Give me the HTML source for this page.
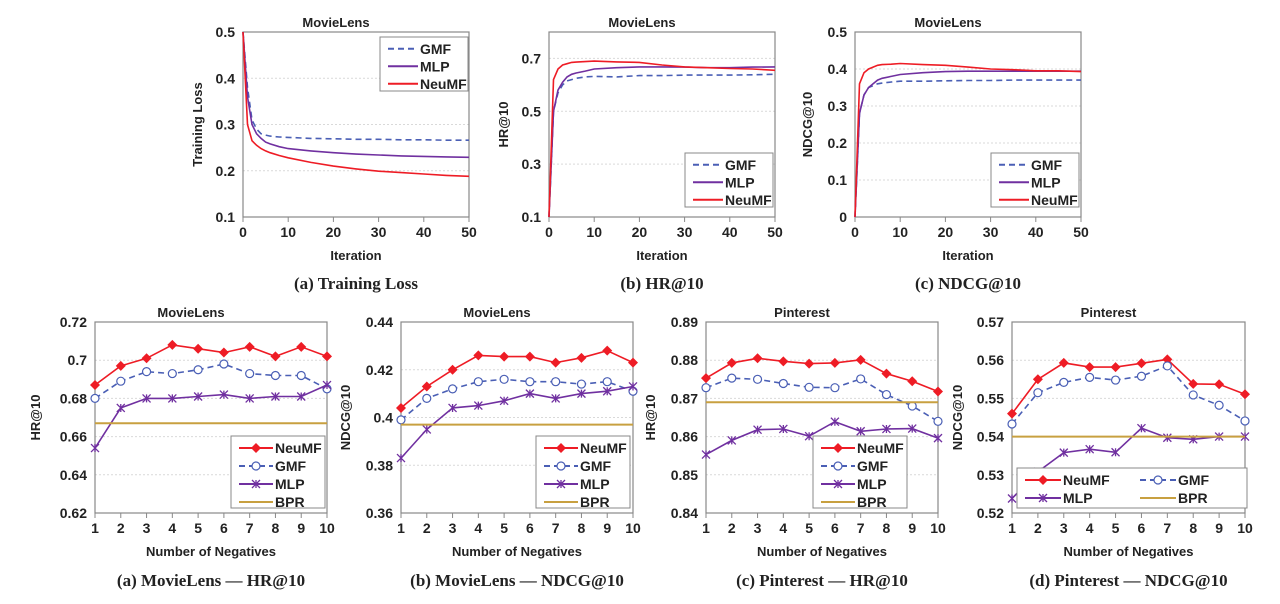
<!DOCTYPE html>
<html><head><meta charset="utf-8"><style>
html,body{margin:0;padding:0;background:#fff;width:1280px;height:604px;overflow:hidden}
svg{display:block;font-family:"Liberation Sans",Arial,sans-serif}
.cap{font-family:"Liberation Serif",serif;font-weight:bold;font-size:17px}
</style></head><body>
<svg id="fig" width="1280" height="604" viewBox="0 0 1280 604" xmlns="http://www.w3.org/2000/svg"></svg>
<script>
// ---------- data: top convergence charts ----------
const iters = [0,1,2,3,4,5,6,8,10,15,20,25,30,35,40,45,50];
const lossGMF = [0.5,0.38,0.31,0.29,0.28,0.277,0.275,0.273,0.272,0.270,0.269,0.268,0.268,0.267,0.267,0.266,0.266];
const lossMLP = [0.5,0.36,0.30,0.28,0.27,0.262,0.258,0.252,0.248,0.243,0.239,0.236,0.234,0.232,0.231,0.230,0.229];
const lossNeuMF = [0.5,0.30,0.265,0.255,0.248,0.243,0.239,0.233,0.228,0.218,0.210,0.204,0.199,0.196,0.193,0.190,0.188];
const hrGMF = [0.1,0.50,0.57,0.60,0.615,0.62,0.625,0.63,0.632,0.630,0.635,0.635,0.637,0.637,0.637,0.638,0.640];
const hrMLP = [0.1,0.50,0.58,0.61,0.63,0.64,0.645,0.652,0.66,0.665,0.668,0.668,0.667,0.665,0.665,0.667,0.668];
const hrNeuMF = [0.1,0.62,0.66,0.675,0.68,0.685,0.686,0.688,0.69,0.687,0.685,0.675,0.668,0.665,0.662,0.660,0.655];
const ndGMF = [0.0,0.28,0.33,0.35,0.355,0.36,0.362,0.365,0.367,0.367,0.368,0.369,0.369,0.370,0.370,0.370,0.370];
const ndMLP = [0.0,0.28,0.33,0.35,0.36,0.37,0.375,0.38,0.385,0.39,0.393,0.394,0.394,0.394,0.394,0.394,0.394];
const ndNeuMF = [0.0,0.36,0.39,0.40,0.405,0.41,0.412,0.413,0.415,0.412,0.410,0.405,0.400,0.398,0.395,0.395,0.393];
const iterTicks = [0,10,20,30,40,50];
// ---------- data: bottom negatives charts ----------
const negs = [1,2,3,4,5,6,7,8,9,10];
const mlHrNeuMF = [0.687,0.697,0.701,0.708,0.706,0.704,0.707,0.702,0.707,0.702];
const mlHrGMF = [0.680,0.689,0.694,0.693,0.695,0.698,0.693,0.692,0.692,0.685];
const mlHrMLP = [0.654,0.675,0.680,0.680,0.681,0.682,0.680,0.681,0.681,0.687];
const mlHrBPR = 0.667;
const mlNdNeuMF = [0.404,0.413,0.420,0.426,0.4255,0.4255,0.423,0.425,0.428,0.423];
const mlNdGMF = [0.399,0.408,0.412,0.415,0.416,0.415,0.415,0.414,0.415,0.411];
const mlNdMLP = [0.383,0.395,0.404,0.405,0.407,0.410,0.408,0.410,0.411,0.413];
const mlNdBPR = 0.397;
const piHrNeuMF = [0.8753,0.8793,0.8805,0.8797,0.8791,0.8793,0.8801,0.8765,0.8745,0.8718];
const piHrGMF = [0.8728,0.8753,0.8750,0.8739,0.8729,0.8728,0.8751,0.8710,0.8680,0.8640];
const piHrMLP = [0.8553,0.8590,0.8618,0.8620,0.8601,0.8639,0.8614,0.8620,0.8621,0.8596];
const piHrBPR = 0.869;
const piNdNeuMF = [0.546,0.555,0.5593,0.5582,0.5582,0.5592,0.5602,0.5538,0.5537,0.5511];
const piNdGMF = [0.5433,0.5515,0.5542,0.5555,0.5548,0.5558,0.5585,0.5509,0.5482,0.5441];
const piNdMLP = [0.5238,0.5308,0.5358,0.5367,0.5359,0.5422,0.5397,0.5393,0.5400,0.5400];
const piNdBPR = 0.540;
const tickA = ["0.62","0.64","0.66","0.68","0.7","0.72"];
const tickB = ["0.36","0.38","0.4","0.42","0.44"];
const tickC = ["0.84","0.85","0.86","0.87","0.88","0.89"];
const tickD = ["0.52","0.53","0.54","0.55","0.56","0.57"];
const tickLoss = ["0.1","0.2","0.3","0.4","0.5"];
const tickHr = ["0.1","0.3","0.5","0.7"];
const tickNd = ["0","0.1","0.2","0.3","0.4","0.5"];

const NS="http://www.w3.org/2000/svg";
const svg=document.getElementById('fig');
function mk(tag,attrs,parent,text){const e=document.createElementNS(NS,tag);for(const k in attrs)e.setAttribute(k,attrs[k]);if(text!==undefined)e.textContent=text;(parent||svg).appendChild(e);return e;}
const RED="#ee1c25",BLUE="#4a5fb5",PURP="#7030a0",GOLD="#c8a040";

function chart(c){
  const g=mk('g',{});
  
  
  const sx=v=>c.x0+(v-c.xmin)/(c.xmax-c.xmin)*(c.x1-c.x0);
  const sy=v=>c.y1-(v-c.ymin)/(c.ymax-c.ymin)*(c.y1-c.y0);
  c.yt.forEach(t=>{const v=parseFloat(t),y=sy(v);
    if(Math.abs(y-c.y0)>1&&Math.abs(y-c.y1)>1){const gl=mk('line',{x1:c.x0,x2:c.x1,y1:y,y2:y,stroke:'#d9d9d9','stroke-dasharray':'2,2'},g);}
    const tl=mk('text',{x:c.x0-8,y:y+5,'text-anchor':'end','font-size':14,'font-weight':'bold',fill:'#222'},g,t);
    
  });
  c.xt.forEach(v=>{const x=sx(v);
    mk('line',{x1:x,x2:x,y1:c.y1,y2:c.y1+5,stroke:'#888'},g);
    const tl=mk('text',{x:x,y:c.y1+20,'text-anchor':'middle','font-size':14,'font-weight':'bold',fill:'#222'},g,String(v));
    
  });
  const fr=mk('rect',{x:c.x0,y:c.y0,width:c.x1-c.x0,height:c.y1-c.y0,fill:'none',stroke:'#888','stroke-width':1.2},g);
  
  const ti=mk('text',{x:(c.x0+c.x1)/2-20,y:c.y0-5,'text-anchor':'middle','font-size':13,'font-weight':'bold',fill:'#222'},g,c.title);
  
  const xl=mk('text',{x:(c.x0+c.x1)/2,y:c.y1+43,'text-anchor':'middle','font-size':13,'font-weight':'bold',fill:'#222'},g,c.xlabel);
  
  const yy=(c.y0+c.y1)/2;
  const yl=mk('text',{x:c.ylx,y:yy,'text-anchor':'middle','font-size':13,'font-weight':'bold',fill:'#222',transform:`rotate(-90 ${c.ylx} ${yy})`},g,c.ylabel);
  
  const cp=mk('text',{x:(c.x0+c.x1)/2,y:c.capY,'text-anchor':'middle',class:'cap',fill:'#222'},g,c.caption);
  
  c.series.forEach(s=>{
    if(s.hline!==undefined){const l=mk('line',{x1:c.x0,x2:c.x1,y1:sy(s.hline),y2:sy(s.hline),stroke:s.color,'stroke-width':2},g);
      return;}
    const d=s.ys.map((v,i)=>(i?'L':'M')+sx(s.xs[i]).toFixed(1)+','+sy(v).toFixed(1)).join(' ');
    const p=mk('path',{d:d,fill:'none',stroke:s.color,'stroke-width':1.6,'stroke-dasharray':s.dash||'none'},g);
    
    if(s.marker) s.ys.forEach((v,i)=>{const m=marker(g,s.marker,sx(s.xs[i]),sy(v),s.color);});
  });
  const L=c.legend;
  const lb=mk('rect',{x:L.x,y:L.y,width:L.w,height:L.h,fill:'#fff',stroke:'#888'},g);
  
  c.series.forEach((s,i)=>{
    const col=L.cols?i%L.cols:0,row=L.cols?Math.floor(i/L.cols):i;
    const ex=L.x+8+col*(L.cw||0), ey=L.y+L.rh*0.5+3+row*L.rh;
    const le=mk('g',{},g);
    mk('line',{x1:ex,x2:ex+L.sw,y1:ey,y2:ey,stroke:s.color,'stroke-width':2,'stroke-dasharray':s.dash||'none'},le);
    if(s.marker)marker(le,s.marker,ex+L.sw/2,ey,s.color);
    mk('text',{x:ex+L.sw+2,y:ey+5,'font-size':14,'font-weight':'bold',fill:'#222'},le,s.label);
  });
}
function marker(g,type,x,y,col){
  if(type==='diamond')return mk('path',{d:`M${x},${y-5}L${x+5},${y}L${x},${y+5}L${x-5},${y}Z`,fill:col},g);
  if(type==='circle')return mk('circle',{cx:x,cy:y,r:4,fill:'#fff',stroke:col,'stroke-width':1.2},g);
  return mk('path',{d:`M${x-4},${y-4}L${x+4},${y+4}M${x-4},${y+4}L${x+4},${y-4}M${x},${y-4}L${x},${y+4}`,stroke:col,'stroke-width':1.3,fill:'none'},g);
}
const topLeg=(x,y)=>({x:x,y:y,w:88,h:54,rh:17.5,sw:30});
const topSeries=(a,b,c)=>[{label:'GMF',xs:iters,ys:a,color:BLUE,dash:'6,4'},{label:'MLP',xs:iters,ys:b,color:PURP},{label:'NeuMF',xs:iters,ys:c,color:RED}];
chart({name:'chart-training-loss',x0:243,x1:469,y0:32,y1:217,xmin:0,xmax:50,ymin:0.1,ymax:0.5,xt:iterTicks,yt:tickLoss,title:'MovieLens',xlabel:'Iteration',ylabel:'Training Loss',ylx:202,caption:'(a) Training Loss',capY:289,legend:topLeg(380,37),series:topSeries(lossGMF,lossMLP,lossNeuMF)});
chart({name:'chart-hr-iter',x0:549,x1:775,y0:32,y1:217,xmin:0,xmax:50,ymin:0.1,ymax:0.8,xt:iterTicks,yt:tickHr,title:'MovieLens',xlabel:'Iteration',ylabel:'HR@10',ylx:508,caption:'(b) HR@10',capY:289,legend:topLeg(685,153),series:topSeries(hrGMF,hrMLP,hrNeuMF)});
chart({name:'chart-ndcg-iter',x0:855,x1:1081,y0:32,y1:217,xmin:0,xmax:50,ymin:0,ymax:0.5,xt:iterTicks,yt:tickNd,title:'MovieLens',xlabel:'Iteration',ylabel:'NDCG@10',ylx:812,caption:'(c) NDCG@10',capY:289,legend:topLeg(991,153),series:topSeries(ndGMF,ndMLP,ndNeuMF)});
const botSeries=(n,gm,ml,bpr)=>[{label:'NeuMF',xs:negs,ys:n,color:RED,marker:'diamond'},{label:'GMF',xs:negs,ys:gm,color:BLUE,dash:'6,4',marker:'circle'},{label:'MLP',xs:negs,ys:ml,color:PURP,marker:'x'},{label:'BPR',hline:bpr,color:GOLD}];
const botLeg=(x)=>({x:x,y:436,w:94,h:72,rh:18,sw:34});
chart({name:'chart-ml-hr-neg',x0:95,x1:327,y0:322,y1:513,xmin:1,xmax:10,ymin:0.62,ymax:0.72,xt:negs,yt:tickA,title:'MovieLens',xlabel:'Number of Negatives',ylabel:'HR@10',ylx:40,caption:'(a) MovieLens — HR@10',capY:586,legend:botLeg(231),series:botSeries(mlHrNeuMF,mlHrGMF,mlHrMLP,mlHrBPR)});
chart({name:'chart-ml-ndcg-neg',x0:401,x1:633,y0:322,y1:513,xmin:1,xmax:10,ymin:0.36,ymax:0.44,xt:negs,yt:tickB,title:'MovieLens',xlabel:'Number of Negatives',ylabel:'NDCG@10',ylx:350,caption:'(b) MovieLens — NDCG@10',capY:586,legend:botLeg(536),series:botSeries(mlNdNeuMF,mlNdGMF,mlNdMLP,mlNdBPR)});
chart({name:'chart-pi-hr-neg',x0:706,x1:938,y0:322,y1:513,xmin:1,xmax:10,ymin:0.84,ymax:0.89,xt:negs,yt:tickC,title:'Pinterest',xlabel:'Number of Negatives',ylabel:'HR@10',ylx:655,caption:'(c) Pinterest — HR@10',capY:586,legend:botLeg(813),series:botSeries(piHrNeuMF,piHrGMF,piHrMLP,piHrBPR)});
chart({name:'chart-pi-ndcg-neg',x0:1012,x1:1245,y0:322,y1:513,xmin:1,xmax:10,ymin:0.52,ymax:0.57,xt:negs,yt:tickD,title:'Pinterest',xlabel:'Number of Negatives',ylabel:'NDCG@10',ylx:962,caption:'(d) Pinterest — NDCG@10',capY:586,legend:{x:1017,y:468,w:230,h:40,rh:18,sw:36,cols:2,cw:115},series:botSeries(piNdNeuMF,piNdGMF,piNdMLP,piNdBPR)});
</script>
</body></html>
